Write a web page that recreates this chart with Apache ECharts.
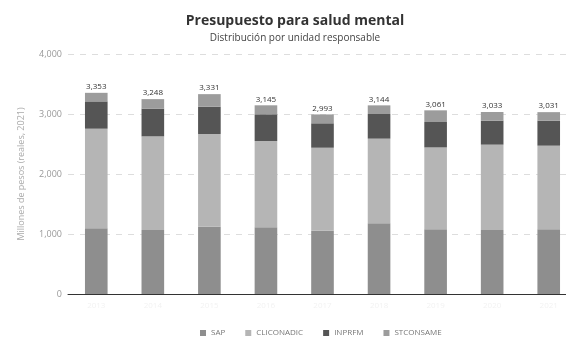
<!DOCTYPE html>
<html>
<head>
<meta charset="utf-8">
<script src="https://cdn.jsdelivr.net/npm/echarts@6/dist/echarts.min.js"></script>
<style>html,body{margin:0;padding:0;background:#fff;overflow:hidden;}#c{width:577px;height:339px;}</style>
</head>
<body>
<div id="c"></div>
<script>
const categories = ['2013','2014','2015','2016','2017','2018','2019','2020','2021'];
const sap = [1095,1067,1122,1111,1055,1178,1078,1067,1078];
const cluconadic = [1660,1561,1545,1439,1383,1411,1366,1422,1394];
const inprfm = [455,462,455,445,407,411,423,400,417];
const stconsame = [143,158,209,150,148,144,194,144,142];
const totals = [3353,3248,3331,3145,2993,3144,3061,3033,3031];
const yTicks = [0,1000,2000,3000,4000];

const font = '"Open Sans", "Noto Sans", sans-serif';
const chart = echarts.init(document.getElementById('c'), null, {renderer:'canvas'});
function seg(name, data, color) {
  return {name, type:'bar', stack:'t', data, barWidth:'40%', itemStyle:{color}, emphasis:{disabled:true}};
}
const series = [
  seg('SAP', sap, '#8e8e8e'),
  seg('CLICONADIC', cluconadic, '#b5b5b5'),
  seg('INPRFM', inprfm, '#555555'),
  seg('STCONSAME', stconsame, '#9c9c9c')
];
series[3].label = {show:true, position:'top', distance:2, fontSize:8, color:'#333', fontFamily:font,
  formatter: p => totals[p.dataIndex].toLocaleString('en-US')};
chart.setOption({
  animation:false,
  title:[{text:'Presupuesto para salud mental', left:290, textAlign:'center', top:9,
    textStyle:{fontSize:14, fontWeight:'bold', color:'#333', fontFamily:font}},
    {text:'Distribución por unidad responsable', left:290, textAlign:'center', top:28,
    textStyle:{fontSize:10, fontWeight:'normal', color:'#444', fontFamily:font}}],
  grid:{left:68, right:0, top:54, bottom:45},
  legend:{top:324, left:195, itemWidth:6, itemHeight:6, itemGap:20, icon:'rect',
    textStyle:{fontSize:8, color:'#777', fontFamily:font},
    data:['SAP','CLICONADIC','INPRFM','STCONSAME']},
  xAxis:{type:'category', data:categories,
    axisLine:{lineStyle:{color:'#333', width:1}}, axisTick:{show:false},
    axisLabel:{color:'#f2f2f2', fontSize:8, fontFamily:font}},
  yAxis:{type:'value', min:0, max:4000, interval:1000,
    name:'Millones de pesos (reales, 2021)', nameLocation:'middle', nameGap:42,
    nameTextStyle:{color:'#aaa', fontSize:9, fontFamily:font},
    axisLabel:{color:'#999', fontSize:9, fontFamily:font, margin:6,
      formatter: v => yTicks.includes(v) ? v.toLocaleString('en-US') : ''},
    splitLine:{lineStyle:{color:'#ddd', type:[6,6]}}},
  series
});
</script>
</body>
</html>
